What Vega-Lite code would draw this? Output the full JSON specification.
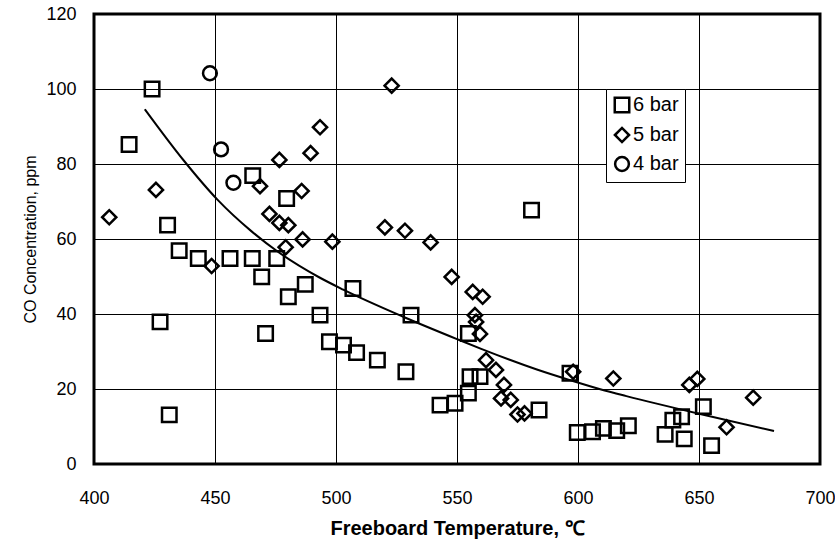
{
  "$schema": "https://vega.github.io/schema/vega-lite/v6.json",
  "width": 726,
  "height": 450,
  "autosize": {"type": "none"},
  "padding": {"left": 94, "top": 14, "right": 15, "bottom": 81},
  "background": "white",
  "config": {
    "view": {"stroke": "black", "strokeWidth": 3},
    "font": "Liberation Sans",
    "axis": {
      "domain": false,
      "ticks": false,
      "grid": true,
      "gridColor": "black",
      "gridOpacity": 1,
      "gridWidth": 1,
      "labelFlush": false,
      "labelOverlap": false,
      "labelFont": "Liberation Sans",
      "labelFontSize": 18,
      "labelColor": "black",
      "titleFont": "Liberation Sans",
      "titleColor": "black",
      "titleFontWeight": "normal"
    }
  },
  "datasets": {
    "pts": [
      {"t": 424, "co": 100, "p": "6 bar"},
      {"t": 414.5, "co": 85.2, "p": "6 bar"},
      {"t": 465.6, "co": 76.9, "p": "6 bar"},
      {"t": 479.6, "co": 70.8, "p": "6 bar"},
      {"t": 430.4, "co": 63.7, "p": "6 bar"},
      {"t": 435.2, "co": 56.9, "p": "6 bar"},
      {"t": 443.1, "co": 54.8, "p": "6 bar"},
      {"t": 456.2, "co": 54.8, "p": "6 bar"},
      {"t": 465.4, "co": 54.8, "p": "6 bar"},
      {"t": 475.5, "co": 54.8, "p": "6 bar"},
      {"t": 469.3, "co": 49.9, "p": "6 bar"},
      {"t": 487.3, "co": 47.9, "p": "6 bar"},
      {"t": 480.3, "co": 44.6, "p": "6 bar"},
      {"t": 493.4, "co": 39.7, "p": "6 bar"},
      {"t": 427.3, "co": 37.9, "p": "6 bar"},
      {"t": 470.9, "co": 34.8, "p": "6 bar"},
      {"t": 497.3, "co": 32.6, "p": "6 bar"},
      {"t": 503.1, "co": 31.7, "p": "6 bar"},
      {"t": 508.5, "co": 29.7, "p": "6 bar"},
      {"t": 507, "co": 46.8, "p": "6 bar"},
      {"t": 431.1, "co": 13.1, "p": "6 bar"},
      {"t": 517.1, "co": 27.7, "p": "6 bar"},
      {"t": 528.9, "co": 24.6, "p": "6 bar"},
      {"t": 531, "co": 39.7, "p": "6 bar"},
      {"t": 554.7, "co": 34.8, "p": "6 bar"},
      {"t": 555.4, "co": 23.3, "p": "6 bar"},
      {"t": 559.5, "co": 23.3, "p": "6 bar"},
      {"t": 554.7, "co": 18.9, "p": "6 bar"},
      {"t": 543, "co": 15.7, "p": "6 bar"},
      {"t": 549.2, "co": 16.2, "p": "6 bar"},
      {"t": 583.9, "co": 14.4, "p": "6 bar"},
      {"t": 596.7, "co": 24.2, "p": "6 bar"},
      {"t": 580.8, "co": 67.7, "p": "6 bar"},
      {"t": 599.7, "co": 8.4, "p": "6 bar"},
      {"t": 606, "co": 8.6, "p": "6 bar"},
      {"t": 610.5, "co": 9.5, "p": "6 bar"},
      {"t": 616, "co": 8.9, "p": "6 bar"},
      {"t": 620.8, "co": 10.2, "p": "6 bar"},
      {"t": 639.2, "co": 11.7, "p": "6 bar"},
      {"t": 642.8, "co": 12.6, "p": "6 bar"},
      {"t": 636, "co": 7.9, "p": "6 bar"},
      {"t": 643.9, "co": 6.7, "p": "6 bar"},
      {"t": 651.8, "co": 15.3, "p": "6 bar"},
      {"t": 655.2, "co": 4.9, "p": "6 bar"},
      {"t": 406.3, "co": 65.8, "p": "5 bar"},
      {"t": 425.6, "co": 73.1, "p": "5 bar"},
      {"t": 476.6, "co": 81.1, "p": "5 bar"},
      {"t": 493.4, "co": 89.8, "p": "5 bar"},
      {"t": 489.5, "co": 82.9, "p": "5 bar"},
      {"t": 468.6, "co": 74.1, "p": "5 bar"},
      {"t": 485.8, "co": 72.8, "p": "5 bar"},
      {"t": 472.5, "co": 66.7, "p": "5 bar"},
      {"t": 476.6, "co": 64.3, "p": "5 bar"},
      {"t": 480.3, "co": 63.7, "p": "5 bar"},
      {"t": 486.2, "co": 59.9, "p": "5 bar"},
      {"t": 498.5, "co": 59.3, "p": "5 bar"},
      {"t": 479.2, "co": 57.8, "p": "5 bar"},
      {"t": 448.6, "co": 52.8, "p": "5 bar"},
      {"t": 523, "co": 100.9, "p": "5 bar"},
      {"t": 520.2, "co": 63.1, "p": "5 bar"},
      {"t": 528.5, "co": 62.2, "p": "5 bar"},
      {"t": 539.1, "co": 59.1, "p": "5 bar"},
      {"t": 547.8, "co": 49.9, "p": "5 bar"},
      {"t": 556.5, "co": 45.9, "p": "5 bar"},
      {"t": 560.6, "co": 44.6, "p": "5 bar"},
      {"t": 557.4, "co": 39.7, "p": "5 bar"},
      {"t": 557.9, "co": 37.9, "p": "5 bar"},
      {"t": 559.5, "co": 34.7, "p": "5 bar"},
      {"t": 562, "co": 27.7, "p": "5 bar"},
      {"t": 566.1, "co": 25.1, "p": "5 bar"},
      {"t": 569.4, "co": 21.1, "p": "5 bar"},
      {"t": 568.2, "co": 17.5, "p": "5 bar"},
      {"t": 572.2, "co": 17.1, "p": "5 bar"},
      {"t": 575, "co": 13.2, "p": "5 bar"},
      {"t": 577.9, "co": 13.5, "p": "5 bar"},
      {"t": 598, "co": 24.6, "p": "5 bar"},
      {"t": 614.6, "co": 22.8, "p": "5 bar"},
      {"t": 646, "co": 21.1, "p": "5 bar"},
      {"t": 649.3, "co": 22.7, "p": "5 bar"},
      {"t": 672.4, "co": 17.7, "p": "5 bar"},
      {"t": 661.4, "co": 9.8, "p": "5 bar"},
      {"t": 447.9, "co": 104.2, "p": "4 bar"},
      {"t": 452.5, "co": 83.9, "p": "4 bar"},
      {"t": 457.6, "co": 75, "p": "4 bar"}
    ],
    "fit": [
      {"t": 421, "co": 94.6},
      {"t": 437, "co": 81},
      {"t": 451, "co": 70.5},
      {"t": 465, "co": 62.1},
      {"t": 476, "co": 56.6},
      {"t": 493, "co": 49.8},
      {"t": 503, "co": 46.5},
      {"t": 528, "co": 39.2},
      {"t": 550, "co": 33.3},
      {"t": 560, "co": 30.7},
      {"t": 583, "co": 25.2},
      {"t": 597, "co": 22.3},
      {"t": 611, "co": 19.6},
      {"t": 620, "co": 18.1},
      {"t": 650, "co": 13.4},
      {"t": 681, "co": 8.8}
    ]
  },
  "layer": [
    {
      "data": {"name": "fit"},
      "mark": {"type": "line", "color": "black", "strokeWidth": 2, "interpolate": "monotone"},
      "encoding": {
        "x": {"field": "t", "type": "quantitative", "scale": {"domain": [400, 700], "nice": false, "zero": false},
          "axis": {"values": [400, 450, 500, 550, 600, 650, 700], "labelPadding": 25, "title": "Freeboard Temperature, ℃", "titleFontSize": 20, "titleFontWeight": "bold", "titlePadding": 11}},
        "y": {"field": "co", "type": "quantitative", "scale": {"domain": [0, 120], "nice": false},
          "axis": {"values": [0, 20, 40, 60, 80, 100, 120], "labelPadding": 18, "title": "CO Concentration, ppm", "titleFontSize": 16, "titlePadding": 7}}
      }
    },
    {
      "data": {"name": "pts"},
      "mark": {"type": "point", "filled": false, "color": "black", "strokeWidth": 2.5, "opacity": 1},
      "encoding": {
        "x": {"field": "t", "type": "quantitative"},
        "y": {"field": "co", "type": "quantitative"},
        "shape": {"field": "p", "type": "nominal",
          "scale": {"domain": ["6 bar", "5 bar", "4 bar"], "range": ["square", "diamond", "circle"]},
          "legend": {"title": null, "orient": "none", "legendX": 512, "legendY": 75,
            "strokeColor": "black", "fillColor": "white", "padding": 6, "rowPadding": 4,
            "labelFontSize": 20, "labelFont": "Liberation Sans", "labelColor": "black", "labelOffset": 1,
            "symbolStrokeWidth": 2.5, "symbolStrokeColor": "black", "symbolFillColor": "transparent"}},
        "size": {"field": "p", "type": "nominal",
          "scale": {"domain": ["6 bar", "5 bar", "4 bar"], "range": [210, 190, 270]}}
      }
    }
  ]
}
